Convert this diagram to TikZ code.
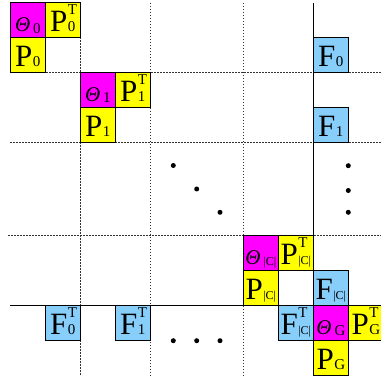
\documentclass[tikz,border=0pt]{standalone}
\usepackage{fontspec}
\setmainfont{Liberation Serif}
\definecolor{skyb}{RGB}{135,206,250}
\definecolor{magc}{RGB}{255,0,255}
\definecolor{yelc}{RGB}{255,255,0}
\newcommand\bigf{\fontsize{31}{31}\selectfont}
\newcommand\thf{\fontsize{21}{21}\selectfont\itshape}
\newcommand\subf{\fontsize{15}{15}\selectfont}
\newcommand\cf{\fontsize{12}{12}\selectfont}
\newcommand\Th[1]{{\thf Θ}\kern3pt\raisebox{-1.5pt}{\subf #1}}
\newcommand\LabT[2]{#1\kern0.5pt{\subf\rlap{\raisebox{17pt}{T}}#2}}
\newcommand\LabS[2]{#1\kern0.5pt{\subf #2}}
\newcommand\CC{{\cf|C|}}
\begin{document}
\begin{tikzpicture}[x=1pt,y=-1pt,
  cell/.style={draw=black, line width=0.7pt, minimum width=35pt, minimum height=35pt,
    inner sep=0pt, text height=26pt, text depth=3pt, anchor=north west, font=\bigf},
  mag/.style={cell, fill=magc},
  yel/.style={cell, fill=yelc},
  blu/.style={cell, fill=skyb},
  gridline/.style={dash pattern=on 1.5pt off 1.5pt, line width=0.75pt, black!80},
  axis/.style={line width=0.8pt, black},
  dot/.style={circle, fill=black, inner sep=0pt, minimum size=5pt}]
\useasboundingbox (0,0) rectangle (381,379);
% grid lines
\draw[gridline] (10,72) -- (381,72);
\draw[gridline] (10,142) -- (381,142);
\draw[gridline] (8,235) -- (381,235);
\draw[gridline] (80,37.5) -- (80,376);
\draw[gridline] (150,3) -- (150,376);
\draw[gridline] (243,3) -- (243,376);
\draw[axis] (313,3) -- (313,376);
\draw[axis] (10,305) -- (381,305);
% block 0
\node[mag] (th0) at (10,2.5) {\Th{0}};
\node[yel] (p0t) at (45,2.5) {\LabT{P}{0}};
\node[yel] (p0) at (10,37.5) {\LabS{P}{0}};
% block 1
\node[mag] (th1) at (80,72) {\Th{1}};
\node[yel] (p1t) at (115,72) {\LabT{P}{1}};
\node[yel] (p1) at (80,107) {\LabS{P}{1}};
% block C
\node[mag] (thc) at (243,235) {\Th{\CC}};
\node[yel] (pct) at (278,235) {\LabT{P}{\CC}};
\node[yel] (pc) at (243,270) {\LabS{P}{\CC}};
% F column
\node[blu] (f0) at (313,37.5) {\LabS{F}{0}};
\node[blu] (f1) at (313,107) {\LabS{F}{1}};
\node[blu] (fc) at (313,270) {\LabS{F}{\CC}};
% F row
\node[blu] (f0t) at (45,305) {\LabT{F}{0}};
\node[blu] (f1t) at (115,305) {\LabT{F}{1}};
\node[blu] (fct) at (278,305) {\LabT{F}{\CC}};
% G block
\node[mag] (thg) at (313,305) {\Th{G}};
\node[yel] (pgt) at (348,305) {\LabT{P}{G}};
\node[yel] (pg) at (313,340) {\LabS{P}{G}};
% dots
\node[dot] (dd1) at (173.3,165.5) {};
\node[dot] (dd2) at (196.7,189) {};
\node[dot] (dd3) at (220,212.3) {};
\node[dot] (dv1) at (348.3,165.7) {};
\node[dot] (dv2) at (348.3,190.5) {};
\node[dot] (dv3) at (348.3,212.3) {};
\node[dot] (dh1) at (173.3,340.7) {};
\node[dot] (dh2) at (196.7,340.7) {};
\node[dot] (dh3) at (220,340.7) {};
\end{tikzpicture}
\end{document}
